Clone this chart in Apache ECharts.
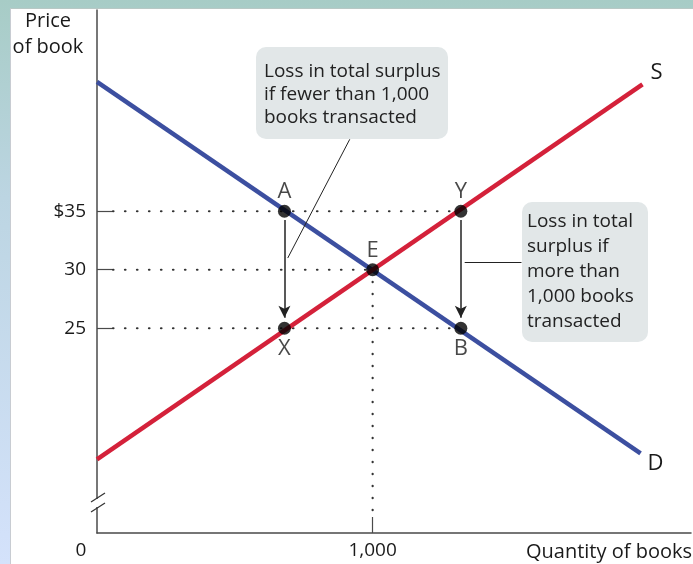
<!DOCTYPE html>
<html>
<head>
<meta charset="utf-8">
<script src="https://cdn.jsdelivr.net/npm/echarts@6/dist/echarts.min.js"></script>
<style>
  html, body { margin: 0; padding: 0; }
  body {
    width: 693px; height: 564px; position: relative; overflow: hidden;
    background: linear-gradient(180deg, #a7ccc6 0%, #bcd5e2 35%, #d4e2fb 100%);
  }
  #panel {
    position: absolute; left: 10px; top: 8px; right: 0; bottom: 0;
    background: #fff; border-left: 1px solid #c8ccd2; border-top: 1px solid #b8c8c5;
  }
  #main { position: absolute; left: 0; top: 0; width: 693px; height: 564px; }
</style>
</head>
<body>
<div id="panel"></div>
<div id="main"></div>
<script>
// curves (quantity, price)
const demand = [[0, 46.05], [1972, 14.3]];
const supply = [[0, 13.8], [1979, 45.85]];

// labelled points
const pointNames = ['A', 'X', 'E', 'Y', 'B'];
const pointQty = [680, 680, 1000, 1320, 1320];
const pointPrice = [35, 25, 30, 35, 25];
const pointLabelPos = ['top', 'bottom', 'top', 'top', 'bottom'];

// tick labels
const priceTicks = [25, 30, 35];
const qtyTicks = [0, 1000];

// dotted guides
const guide35 = [[58, 35], [1320, 35]];
const guide30 = [[58, 30], [1000, 30]];
const guide25 = [[58, 25], [1320, 25]];
const guideQ = [[1000, 30], [1000, 8.9]];

// arrows and leader lines
const arrowAX = [[680, 34.25], [680, 25.9]];
const arrowYB = [[1320, 34.25], [1320, 25.9]];
const leader1 = [[917, 41.15], [692, 31.0]];
const leader2 = [[1334, 30.64], [1540, 30.64]];

const FONT = '"Open Sans", "Noto Sans", sans-serif';
const INK = '#1a1a1a';

const chart = echarts.init(document.getElementById('main'));

function dotted(data) {
  return {
    type: 'line', data: data, showSymbol: false, silent: true, z: 1,
    lineStyle: { color: '#333', width: 2.2, type: [0.5, 11.5], cap: 'round' }
  };
}

const option = {
  animation: false,
  backgroundColor: 'transparent',
  grid: { left: 97, top: 10, right: 2, bottom: 31 },
  xAxis: {
    type: 'value', min: 0, max: 2155,
    splitLine: { show: false },
    axisLine: { lineStyle: { color: '#4a4a4a', width: 1.5 } },
    axisTick: { show: true, inside: true, length: 16, customValues: [1000],
      lineStyle: { color: '#4a4a4a', width: 1.2 } },
    axisLabel: {
      customValues: qtyTicks, margin: 8, color: INK, fontFamily: FONT, fontSize: 19,
      formatter: v => v === 0 ? '{z|0}' : '1,000',
      rich: { z: { fontFamily: FONT, fontSize: 19, color: INK, padding: [0, 32, 0, 0] } }
    }
  },
  yAxis: {
    type: 'value', min: 7.5, max: 52.2,
    splitLine: { show: false },
    axisLine: { lineStyle: { color: '#4a4a4a', width: 1.5 } },
    axisTick: { show: true, inside: true, length: 15, customValues: priceTicks,
      lineStyle: { color: '#4a4a4a', width: 1.2 } },
    axisLabel: {
      customValues: priceTicks, margin: 11, color: INK, fontFamily: FONT, fontSize: 19,
      formatter: v => v === 35 ? '$35' : String(v)
    }
  },
  series: [
    dotted(guide35), dotted(guide30), dotted(guide25), dotted(guideQ),
    {
      type: 'line', data: demand, showSymbol: false, z: 3,
      lineStyle: { color: '#3c4fa0', width: 4.5, cap: 'butt' },
      endLabel: { show: true, formatter: 'D', offset: [-1, 10], color: INK,
        fontFamily: FONT, fontSize: 22 }
    },
    {
      type: 'line', data: supply, showSymbol: false, z: 3,
      lineStyle: { color: '#d4213a', width: 4.5, cap: 'butt' },
      endLabel: { show: true, formatter: 'S', offset: [0, -12], color: INK,
        fontFamily: FONT, fontSize: 22 }
    },
    {
      type: 'line', data: [], silent: true,
      markLine: {
        silent: true, animation: false,
        symbol: ['none', 'arrow'], symbolSize: [9, 12],
        label: { show: false },
        lineStyle: { color: '#222', width: 1.5, type: 'solid' },
        data: [
          [{ coord: arrowAX[0] }, { coord: arrowAX[1] }],
          [{ coord: arrowYB[0] }, { coord: arrowYB[1] }]
        ]
      }
    },
    {
      type: 'line', data: [], silent: true,
      markLine: {
        silent: true, animation: false,
        symbol: ['none', 'none'],
        label: { show: false },
        lineStyle: { color: '#222', width: 1, type: 'solid' },
        data: [
          [{ coord: leader1[0] }, { coord: leader1[1] }],
          [{ coord: leader2[0] }, { coord: leader2[1] }]
        ]
      }
    },
    {
      type: 'scatter', z: 5, symbolSize: 13,
      itemStyle: { color: '#000' },
      data: pointNames.map((n, i) => ({
        name: n, value: [pointQty[i], pointPrice[i]],
        label: { show: true, position: pointLabelPos[i],
          distance: pointLabelPos[i] === 'top' ? 2 : 3,
          formatter: '{b}', color: INK, fontFamily: FONT, fontSize: 22 }
      }))
    }
  ],
  graphic: [
    // axis titles
    { type: 'text', x: 48, y: 8, z: 10,
      style: { text: 'Price\nof book', fill: INK, font: '20px ' + FONT, lineHeight: 26,
        align: 'center', verticalAlign: 'top' } },
    { type: 'text', x: 692, y: 552, z: 10,
      style: { text: 'Quantity of books', fill: INK, font: '20px ' + FONT,
        align: 'right', verticalAlign: 'middle' } },
    // axis break
    { type: 'rect', shape: { x: 94, y: 499, width: 7, height: 8 }, style: { fill: '#fff' }, z: 10 },
    { type: 'line', shape: { x1: 91, y1: 502, x2: 105, y2: 493 },
      style: { stroke: '#333', lineWidth: 1.2 }, z: 11 },
    { type: 'line', shape: { x1: 91, y1: 512, x2: 105, y2: 503 },
      style: { stroke: '#333', lineWidth: 1.2 }, z: 11 },
    // callout boxes
    { type: 'rect', shape: { x: 256, y: 47, width: 192, height: 92, r: 10 },
      style: { fill: '#e2e7e8' }, z: 8 },
    { type: 'text', x: 264, y: 60, z: 9,
      style: { text: 'Loss in total surplus\nif fewer than 1,000\nbooks transacted',
        fill: '#222', font: '19px ' + FONT, lineHeight: 23 } },
    { type: 'rect', shape: { x: 522, y: 202, width: 126, height: 140, r: 10 },
      style: { fill: '#e2e7e8' }, z: 8 },
    { type: 'text', x: 527, y: 209, z: 9,
      style: { text: 'Loss in total\nsurplus if\nmore than\n1,000 books\ntransacted',
        fill: '#222', font: '19px ' + FONT, lineHeight: 25 } }
  ]
};

chart.setOption(option);
</script>
</body>
</html>
